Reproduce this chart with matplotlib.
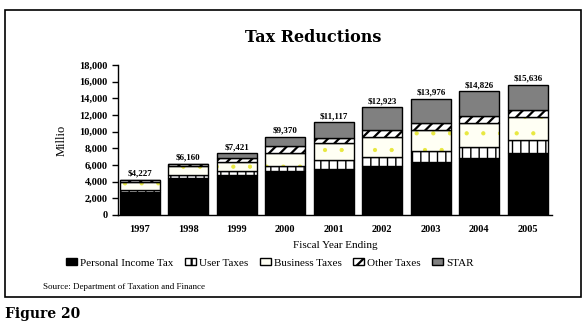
import numpy as np
import matplotlib
matplotlib.use('Agg')
import matplotlib.pyplot as plt
from matplotlib.patches import Rectangle, Patch

plt.rcParams.update({
    'font.family': 'Liberation Serif',
    'hatch.linewidth': 1.6,
})

# ── Data (millions of dollars) ─────────────────────────────────
years = ['1997', '1998', '1999', '2000', '2001', '2002', '2003', '2004', '2005']
personal_income = [2750, 4500, 4800, 5250, 5500, 5900, 6350, 6900, 7500]
user_taxes = [250, 250, 480, 600, 1100, 1100, 1300, 1300, 1450]
business_taxes = [1000, 1100, 1120, 1550, 2000, 2400, 2550, 2900, 2850]
other_taxes = [227, 310, 400, 870, 600, 750, 800, 800, 850]
star = [0, 0, 621, 1100, 1917, 2773, 2976, 2926, 2986]
totals = ['$4,227', '$6,160', '$7,421', '$9,370', '$11,117',
          '$12,923', '$13,976', '$14,826', '$15,636']

fig = plt.figure(figsize=(5.88, 3.28), dpi=100)
ax = fig.add_axes([118 / 588, 1 - 215 / 328, 434 / 588, 150 / 328])

x = np.arange(len(years))
w = 0.83
bottom = np.zeros(len(years))

# personal income tax: solid black
ax.bar(x, personal_income, w, bottom=bottom, color='black', edgecolor='black', linewidth=1)
bottom += personal_income
# user taxes: white with vertical brick lines
with plt.rc_context({'hatch.linewidth': 1.0}):
    ax.bar(x, user_taxes, w, bottom=bottom, color='white', edgecolor='black', hatch='||', linewidth=1)
bottom += user_taxes
# business taxes: pale fill with small yellow dots, outline drawn after
with plt.rc_context({'hatch.linewidth': 0.6}):
    ax.bar(x, business_taxes, w, bottom=bottom, color='#fffff4', edgecolor='#e8e840',
           hatch='.', linewidth=0)
ax.bar(x, business_taxes, w, bottom=bottom, color='none', edgecolor='black', linewidth=1)
bottom += business_taxes
# other taxes: black diagonal stripes
ax.bar(x, other_taxes, w, bottom=bottom, color='white', edgecolor='black', hatch='///', linewidth=1)
bottom += other_taxes
# STAR: gray
ax.bar(x, star, w, bottom=bottom, color='#808080', edgecolor='black', linewidth=1)
bottom += star

for xi, top, lab in zip(x, bottom, totals):
    ax.text(xi, top + 250, lab, ha='center', va='bottom', fontsize=6.5, fontweight='bold')

ax.set_xlim(-0.45, 8.5)
ax.set_ylim(0, 18000)
ax.set_yticks(np.arange(0, 18001, 2000))
ax.set_yticklabels([f'{v:,}' for v in range(0, 18001, 2000)], fontsize=7.5, fontweight='bold')
ax.set_xticks(x)
ax.set_xticklabels(years, fontsize=7.5, fontweight='bold')
ax.tick_params(axis='x', length=0, pad=7)
ax.tick_params(axis='y', length=4, width=1, direction='out')
for s in ['top', 'right']:
    ax.spines[s].set_visible(False)
ax.spines['left'].set_linewidth(1)
ax.spines['bottom'].set_linewidth(1)

ax.set_xlabel('Fiscal Year Ending', fontsize=8, labelpad=5)
ax.set_ylabel('Millio', fontsize=9, labelpad=8)

fig.text(313 / 588, 1 - 37 / 328, 'Tax Reductions', ha='center', va='center',
         fontsize=11.5, fontweight='bold', family='DejaVu Serif')

handles = [
    Patch(facecolor='black', edgecolor='black'),
    Patch(facecolor='white', edgecolor='black', hatch='|'),
    Patch(facecolor='#fffff4', edgecolor='black'),
    Patch(facecolor='white', edgecolor='black', hatch='///'),
    Patch(facecolor='#808080', edgecolor='black'),
]
labels = ['Personal Income Tax', 'User Taxes', 'Business Taxes', 'Other Taxes', 'STAR']
fig.legend(handles, labels, loc='center', bbox_to_anchor=(270 / 588, 1 - 263 / 328),
           ncol=5, frameon=False, fontsize=8, handlelength=1.0, handleheight=0.6,
           handletextpad=0.3, columnspacing=1.0)

fig.text(43 / 588, 1 - 287 / 328, 'Source: Department of Taxation and Finance',
         ha='left', va='center', fontsize=6.5)

fig.add_artist(Rectangle((5 / 588, 1 - 297 / 328), 576 / 588, 287 / 328,
                         transform=fig.transFigure, fill=False, edgecolor='black', linewidth=1.2))

fig.text(5 / 588, 1 - 314 / 328, 'Figure 20', ha='left', va='center',
         fontsize=10, fontweight='bold', family='DejaVu Serif')

fig.savefig('out.png', dpi=100, facecolor='white')
